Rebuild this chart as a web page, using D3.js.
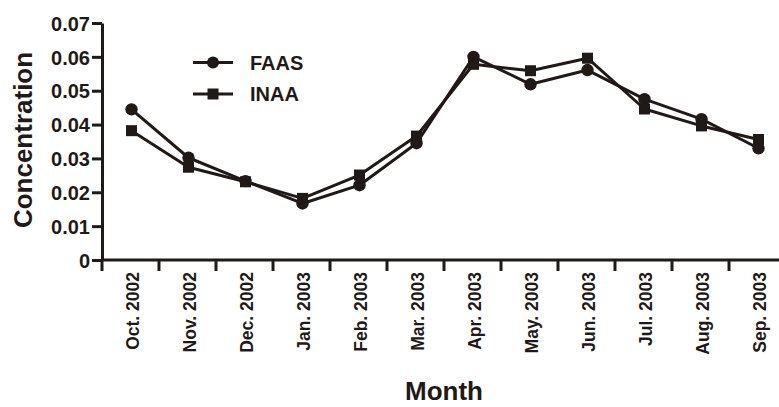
<!DOCTYPE html>
<html lang="en">
<head>
    <meta charset="UTF-8">
    <title>Concentration by Month</title>
    <script src="https://d3js.org/d3.v7.min.js"></script>
    <style>
        body { margin: 0; background: #fff; }
        text { font-family: "Liberation Sans", Arial, sans-serif; font-weight: bold; fill: #1f1a17; }
        .ytick { font-size: 20px; }
        .xtick { font-size: 17.5px; }
        .legend { font-size: 20px; }
        .title { font-size: 26px; }
    </style>
</head>
<body>
    <svg width="779" height="407"></svg>
    <script>
        const months = ["Oct. 2002", "Nov. 2002", "Dec. 2002", "Jan. 2003", "Feb. 2003", "Mar. 2003",
                        "Apr. 2003", "May. 2003", "Jun. 2003", "Jul. 2003", "Aug. 2003", "Sep. 2003"];
        const faas = [0.0445, 0.0302, 0.0233, 0.0167, 0.0221, 0.0345, 0.0600, 0.0519, 0.0561, 0.0475, 0.0416, 0.0330];
        const inaa = [0.0382, 0.0274, 0.0231, 0.0182, 0.0251, 0.0366, 0.0578, 0.0559, 0.0596, 0.0446, 0.0396, 0.0356];
        const yTicks = [0, 0.01, 0.02, 0.03, 0.04, 0.05, 0.06, 0.07];
        const yTickLabels = ["0", "0.01", "0.02", "0.03", "0.04", "0.05", "0.06", "0.07"];

        const ink = "#1f1a17";
        const svg = d3.select("svg");

        const x = d3.scaleBand().domain(months).range([103, 787]).padding(0);
        const y = d3.scaleLinear().domain([0, 0.07]).range([260, 23]);
        const cx = d => x(d) + x.bandwidth() / 2;

        // y axis
        const yAxis = svg.append("g")
            .attr("transform", "translate(102,0)")
            .call(d3.axisLeft(y).tickValues(yTicks).tickSize(10).tickSizeOuter(0)
                .tickFormat((d, i) => yTickLabels[i]));
        yAxis.select(".domain").attr("stroke", ink).attr("stroke-width", 3);
        yAxis.selectAll(".tick line").attr("stroke", ink).attr("stroke-width", 3);
        yAxis.selectAll(".tick text").attr("class", "ytick").attr("x", -12)
            .attr("dy", "0.36em").style("fill", ink).attr("font-family", null).attr("font-size", null);

        // x axis line and ticks at band boundaries
        svg.append("line")
            .attr("x1", 102).attr("x2", 779).attr("y1", y(0)).attr("y2", y(0))
            .attr("stroke", ink).attr("stroke-width", 3);
        svg.selectAll(".xtickline")
            .data(months)
            .enter().append("line")
            .attr("x1", d => x(d) - 1).attr("x2", d => x(d) - 1)
            .attr("y1", y(0)).attr("y2", y(0) + 11)
            .attr("stroke", ink).attr("stroke-width", 3);
        svg.selectAll(".xtick")
            .data(months)
            .enter().append("text")
            .attr("class", "xtick")
            .attr("transform", d => `translate(${cx(d) + 1},272) rotate(-90)`)
            .attr("text-anchor", "end")
            .attr("dy", "0.36em")
            .text(d => d);

        // series
        const line = d3.line().x((d, i) => cx(months[i])).y(d => y(d));
        [faas, inaa].forEach(s => {
            svg.append("path").datum(s)
                .attr("d", line).attr("fill", "none")
                .attr("stroke", ink).attr("stroke-width", 3).attr("stroke-linejoin", "round");
        });
        svg.selectAll(".pt-faas")
            .data(faas).enter().append("circle")
            .attr("cx", (d, i) => cx(months[i])).attr("cy", d => y(d))
            .attr("r", 6.2).attr("fill", ink);
        svg.selectAll(".pt-inaa")
            .data(inaa).enter().append("rect")
            .attr("x", (d, i) => cx(months[i]) - 5.5).attr("y", d => y(d) - 5.5)
            .attr("width", 11).attr("height", 11).attr("fill", ink);

        // legend
        const lg = svg.append("g");
        [["FAAS", 62.5], ["INAA", 94]].forEach(([name, ly], k) => {
            lg.append("line").attr("x1", 193).attr("x2", 233).attr("y1", ly).attr("y2", ly)
                .attr("stroke", ink).attr("stroke-width", 3);
            if (k === 0) lg.append("circle").attr("cx", 213).attr("cy", ly).attr("r", 6).attr("fill", ink);
            else lg.append("rect").attr("x", 207.5).attr("y", ly - 5.5).attr("width", 11).attr("height", 11).attr("fill", ink);
            lg.append("text").attr("class", "legend").attr("x", 250).attr("y", ly + 7).text(name);
        });

        // axis titles
        svg.append("text").attr("class", "title")
            .attr("transform", "translate(32,140) rotate(-90)")
            .attr("text-anchor", "middle").text("Concentration");
        svg.append("text").attr("class", "title")
            .attr("x", 444).attr("y", 400)
            .attr("text-anchor", "middle").text("Month");
    </script>
</body>
</html>
